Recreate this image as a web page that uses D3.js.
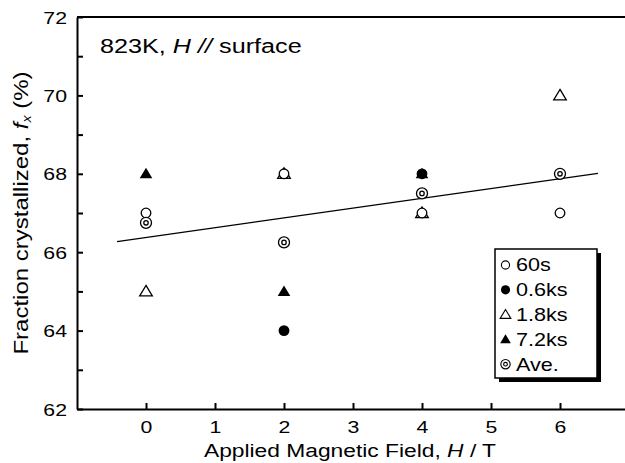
<!DOCTYPE html>
<html lang="en">
<head>
    <meta charset="UTF-8">
    <title>Fraction crystallized vs field</title>
    <script src="https://d3js.org/d3.v7.min.js"></script>
    <style>
        body { margin: 0; background: #fff; }
        text { font-family: 'Liberation Sans', Arial, sans-serif; fill: #000; }
    </style>
</head>
<body>
    <div id="chart"></div>
    <script>
        // data
        const fields = [0, 2, 4, 6];
        const s60 = [67, 68, 67, 67];
        const s06 = [null, 64, 68, null];
        const s18 = [65, 68, 67, 70];
        const s72 = [68, 65, 68, null];
        const ave = [66.75, 66.25, 67.5, 68];
        const fitX = [-0.42, 6.55];
        const fitY = [66.27, 68.01];
        const xTicks = [0, 1, 2, 3, 4, 5, 6];
        const yMajor = [62, 64, 66, 68, 70, 72];
        const yMinor = [63, 65, 67, 69, 71];
        const legendLabels = ["60s", "0.6ks", "1.8ks", "7.2ks", "Ave."];

        const W = 625, H = 463;
        const margin = {top: 17, left: 77, bottom: 54};
        const height = H - margin.top - margin.bottom;
        // the lettering in the picture is a bit wider than Arial, so stretch it
        const sx = 1.2;

        const svg = d3.select("#chart").append("svg")
            .attr("width", W).attr("height", H);

        const x = d3.scaleLinear().domain([-1, 7]).range([margin.left, margin.left + 8 * 69]);
        const y = d3.scaleLinear().domain([62, 72]).range([margin.top + height, margin.top]);

        // axes, ticks point inward
        const xAxis = svg.append("g")
            .attr("transform", `translate(0,${y(62)})`)
            .call(d3.axisTop(x).tickValues(xTicks).tickSize(6).tickSizeOuter(0).tickFormat(d3.format("d")));
        xAxis.selectAll("text").attr("y", 24).attr("dy", 0)
            .attr("transform", "scale(1.25,1)").style("font-size", "17px");

        const yAxis = svg.append("g")
            .attr("transform", `translate(${x(-1)},0)`)
            .call(d3.axisRight(y).tickValues(yMajor).tickSize(6).tickSizeOuter(0).tickFormat(d3.format("d")));
        yAxis.selectAll("text").attr("x", -10 / 1.25).attr("text-anchor", "end").attr("dy", "0.36em")
            .attr("transform", "scale(1.25,1)").style("font-size", "17px");
        svg.append("g")
            .attr("transform", `translate(${x(-1)},0)`)
            .call(d3.axisRight(y).tickValues(yMinor).tickSize(6).tickSizeOuter(0).tickFormat(""))
            .select(".domain").remove();

        svg.selectAll(".domain").attr("stroke-width", 2);
        svg.selectAll(".tick line").attr("stroke-width", 2);

        // top frame line
        svg.append("line")
            .attr("x1", x(-1)).attr("x2", x(7))
            .attr("y1", y(72)).attr("y2", y(72))
            .attr("stroke", "#000").attr("stroke-width", 2);

        // fitted line
        svg.append("line")
            .attr("x1", x(fitX[0])).attr("y1", y(fitY[0]))
            .attr("x2", x(fitX[1])).attr("y2", y(fitY[1]))
            .attr("stroke", "#000").attr("stroke-width", 1.3);

        const tri = "M0,-6L6.3,4.5L-6.3,4.5Z";

        function marker(g, kind) {
            if (kind === "open-circle") {
                g.append("circle").attr("r", 4.8).attr("fill", "#fff").attr("stroke", "#000").attr("stroke-width", 1.3);
            } else if (kind === "filled-circle") {
                g.append("circle").attr("r", 5.4).attr("fill", "#000");
            } else if (kind === "open-tri") {
                g.append("path").attr("d", tri).attr("fill", "#fff").attr("stroke", "#000").attr("stroke-width", 1.3);
            } else if (kind === "filled-tri") {
                g.append("path").attr("d", tri).attr("fill", "#000");
            } else {
                g.append("circle").attr("r", 5.5).attr("fill", "#fff").attr("stroke", "#000").attr("stroke-width", 1.3);
                g.append("circle").attr("r", 2.2).attr("fill", "#fff").attr("stroke", "#000").attr("stroke-width", 1.3);
            }
        }

        // draw order so open markers sit on top of the filled ones
        const series = [
            {vals: s18, kind: "open-tri"},
            {vals: s72, kind: "filled-tri"},
            {vals: s06, kind: "filled-circle"},
            {vals: s60, kind: "open-circle"},
            {vals: ave, kind: "ave"}
        ];
        series.forEach(s => {
            fields.forEach((f, i) => {
                if (s.vals[i] == null) return;
                const g = svg.append("g").attr("transform", `translate(${x(f)},${y(s.vals[i])})`);
                marker(g, s.kind);
            });
        });

        // legend with drop shadow
        const lg = svg.append("g").attr("transform", "translate(495,249)");
        lg.append("rect").attr("x", 4).attr("y", 4).attr("width", 102).attr("height", 129).attr("fill", "#000");
        lg.append("rect").attr("width", 102).attr("height", 129).attr("fill", "#fff").attr("stroke", "#000").attr("stroke-width", 1.5);
        const kinds = ["open-circle", "filled-circle", "open-tri", "filled-tri", "ave"];
        legendLabels.forEach((lab, i) => {
            const yy = 16 + i * 24.8;
            marker(lg.append("g").attr("transform", `translate(10.5,${yy}) scale(0.85)`), kinds[i]);
            lg.append("text").attr("transform", `translate(21,${yy}) scale(${sx},1)`).attr("dy", "0.36em")
                .style("font-size", "18px").text(lab);
        });

        // annotation
        const ann = svg.append("text").attr("transform", `translate(100,53) scale(${sx},1)`).style("font-size", "21px");
        ann.append("tspan").text("823K, ");
        ann.append("tspan").style("font-style", "italic").text("H //");
        ann.append("tspan").text(" surface");

        // axis titles
        const xt = svg.append("text").attr("transform", `translate(350,457) scale(${sx},1)`)
            .attr("text-anchor", "middle").style("font-size", "19px");
        xt.append("tspan").text("Applied Magnetic Field, ");
        xt.append("tspan").style("font-style", "italic").text("H");
        xt.append("tspan").text(" / T");

        const yt = svg.append("text").attr("transform", `translate(28,${y(67)}) rotate(-90) scale(${sx},1)`)
            .attr("text-anchor", "middle").style("font-size", "20px");
        yt.append("tspan").text("Fraction crystallized, ");
        yt.append("tspan").style("font-style", "italic").text("f");
        yt.append("tspan").style("font-style", "italic").style("font-size", "12px").attr("dy", 3).text("x");
        yt.append("tspan").attr("dy", -3).text(" (%)");
    </script>
</body>
</html>
